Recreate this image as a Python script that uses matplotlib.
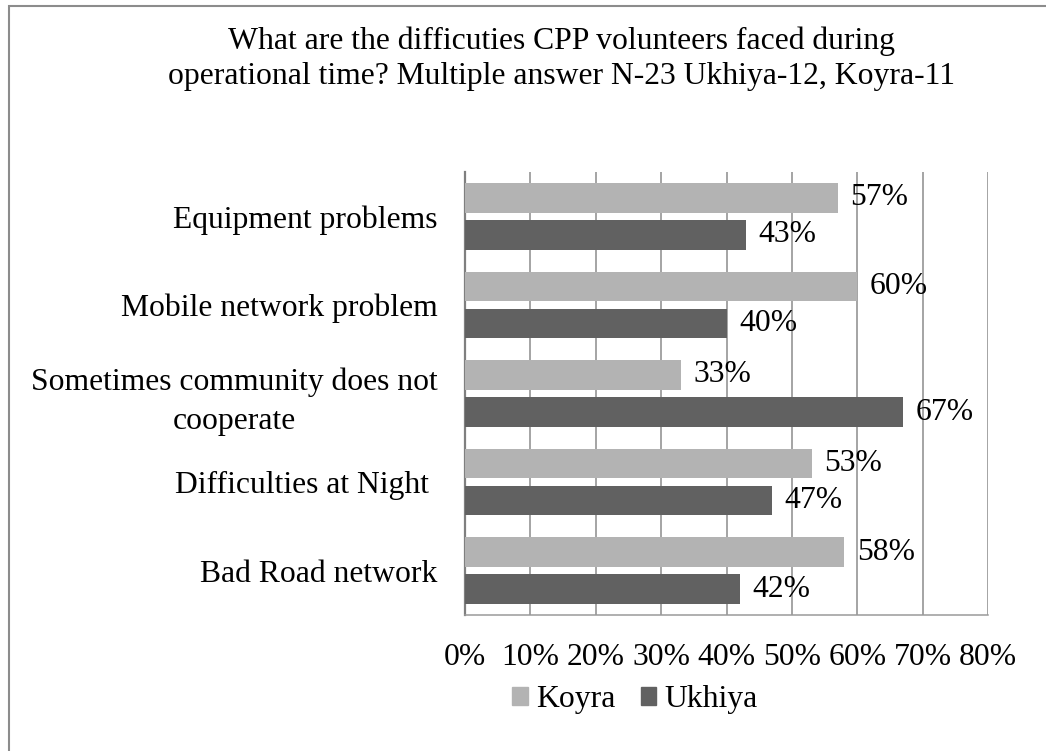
import matplotlib
matplotlib.use("Agg")
import matplotlib.pyplot as plt
import numpy as np
from matplotlib.patches import Rectangle, Patch

plt.rcParams["font.family"] = ["Liberation Serif", "DejaVu Serif"]

categories = [
    "Equipment problems",
    "Mobile network problem",
    "Sometimes community does not\ncooperate",
    "Difficulties at Night ",
    "Bad Road network",
]
koyra = [57, 60, 33, 53, 58]
ukhiya = [43, 40, 67, 47, 42]
xticks = [0, 10, 20, 30, 40, 50, 60, 70, 80]

title_lines = ["What are the difficuties CPP volunteers faced during",
               "operational time? Multiple answer N-23 Ukhiya-12, Koyra-11"]

C_KOYRA = "#b3b3b3"
C_UKHIYA = "#616161"
FS = 22.8

fig = plt.figure(figsize=(10.46, 7.51), dpi=100)
ax = fig.add_axes([0.4446, 0.1811, 0.5, 0.5899])

y = np.arange(len(categories))
h = 0.333
off = 0.209
ax.barh(y - off, koyra, height=h, color=C_KOYRA, zorder=3)
ax.barh(y + off, ukhiya, height=h, color=C_UKHIYA, zorder=3)

for yi, v in zip(y - off, koyra):
    ax.annotate(f"{v}%", (v, yi), xytext=(9, 0), textcoords="offset points",
                va="center", ha="left", fontsize=FS, zorder=4)
for yi, v in zip(y + off, ukhiya):
    ax.annotate(f"{v}%", (v, yi), xytext=(9, 0), textcoords="offset points",
                va="center", ha="left", fontsize=FS, zorder=4)

ax.set_xlim(0, 80)
ax.set_ylim(len(categories) - 0.5, -0.5)
ax.set_xticks(xticks)
ax.set_xticklabels([f"{t}%" for t in xticks], fontsize=FS)
ax.set_yticks(y)
ax.set_yticklabels(categories, fontsize=FS, multialignment="center")
ax.tick_params(axis="both", length=0)
ax.tick_params(axis="x", pad=20)
ax.tick_params(axis="y", pad=20)
for lbl in ax.get_yticklabels():
    lbl.set_linespacing(1.45)

ax.grid(True, axis="x", color="#8c8c8c", lw=1.1, zorder=0)
for s in ["top", "right"]:
    ax.spines[s].set_visible(False)
ax.spines["left"].set_color("#7f7f7f")
ax.spines["left"].set_linewidth(1.6)
ax.spines["bottom"].set_color("#9a9a9a")
ax.spines["bottom"].set_linewidth(1.1)

# title, two lines placed by baseline
for line, base_px in zip(title_lines, [49, 84]):
    fig.text(0.5365, 1 - base_px / 751, line, ha="center", va="baseline", fontsize=FS)

handles = [Patch(color=C_KOYRA, label="Koyra"), Patch(color=C_UKHIYA, label="Ukhiya")]
fig.legend(handles=handles, loc="center", bbox_to_anchor=(0.607, 0.068), ncol=2,
           frameon=False, fontsize=FS, handlelength=0.5, handleheight=0.5,
           handletextpad=0.25, columnspacing=0.8)

# outer chart frame (right/bottom edges fall outside the picture)
fig.patches.append(Rectangle((9 / 1046, -0.05), 1.1, 1 - 6 / 751 + 0.05,
                             transform=fig.transFigure, fill=False,
                             edgecolor="#8c8c8c", lw=1.5, clip_on=False))

fig.savefig("out.png", dpi=100)
